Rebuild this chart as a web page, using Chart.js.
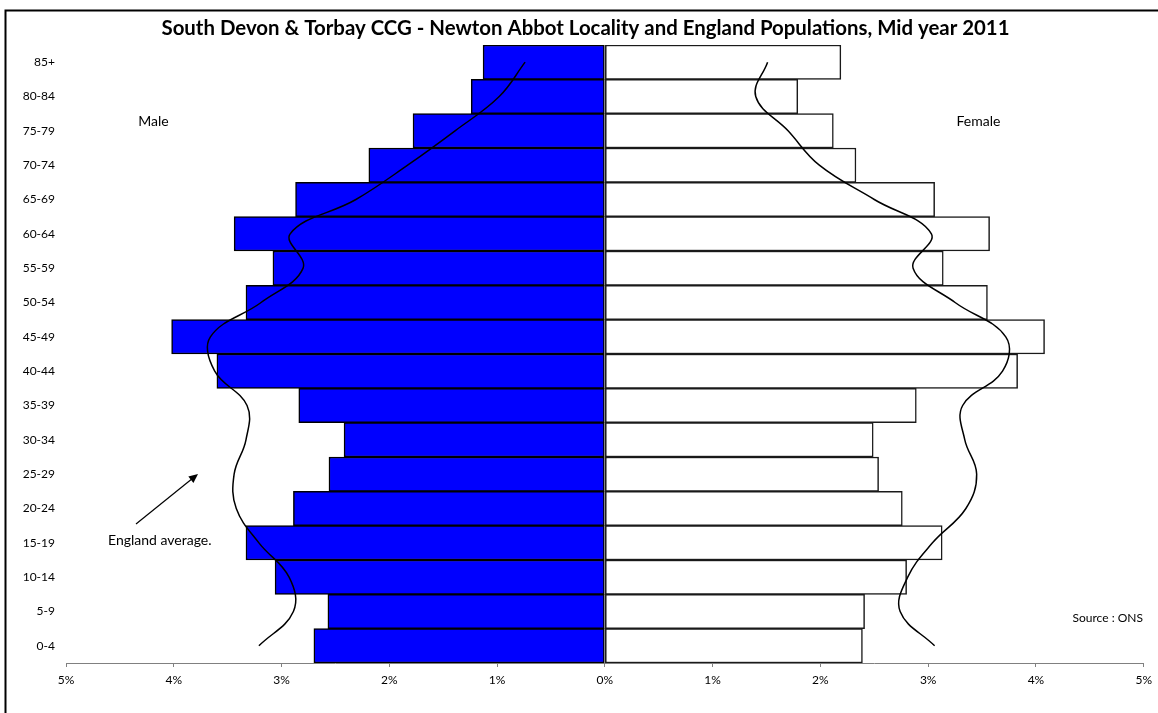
<!DOCTYPE html>
<html>
<head>
<meta charset="utf-8">
<title>Newton Abbot Locality population pyramid</title>
<script src="https://cdn.jsdelivr.net/npm/chart.js@4.4.1/dist/chart.umd.min.js"></script>
<style>
  html, body { margin: 0; padding: 0; background: #ffffff; }
  #wrap { width: 1158px; height: 713px; position: relative; }
  canvas { display: block; }
</style>
</head>
<body>
<div id="wrap"><canvas id="pyramid" width="1158" height="713"></canvas></div>
<script>
// Five-year age bands, youngest first (the y axis is reversed so 85+ sits on top)
const ageBands = ['0-4', '5-9', '10-14', '15-19', '20-24', '25-29', '30-34', '35-39', '40-44',
                  '45-49', '50-54', '55-59', '60-64', '65-69', '70-74', '75-79', '80-84', '85+'];

// Newton Abbot Locality, % of total population
const maleLocality   = [2.70, 2.57, 3.06, 3.33, 2.89, 2.56, 2.42, 2.84, 3.60, 4.02, 3.33, 3.08, 3.44, 2.87, 2.19, 1.78, 1.24, 1.13];
const femaleLocality = [2.39, 2.41, 2.80, 3.13, 2.76, 2.54, 2.49, 2.89, 3.83, 4.08, 3.55, 3.14, 3.57, 3.06, 2.33, 2.12, 1.79, 2.19];

// England average, % of total population
const maleEngland    = [3.21, 2.89, 2.93, 3.21, 3.42, 3.44, 3.33, 3.32, 3.62, 3.66, 3.19, 2.80, 2.92, 2.31, 1.83, 1.39, 0.98, 0.74];
const femaleEngland  = [3.06, 2.74, 2.81, 3.04, 3.35, 3.45, 3.34, 3.32, 3.69, 3.72, 3.25, 2.86, 3.03, 2.50, 1.99, 1.70, 1.40, 1.51];

// Axis ticks (percent either side of zero)
const tickValues = [-5, -4, -3, -2, -1, 0, 1, 2, 3, 4, 5];

const chartTitle = 'South Devon & Torbay CCG - Newton Abbot Locality and England Populations, Mid year 2011';
const FONT = "Lato, 'Open Sans', 'DejaVu Sans', sans-serif";

// Males are plotted to the left of zero
const toLeft = arr => arr.map(v => -v);

// Frame, title and free-standing labels drawn on the canvas
const decorations = {
  id: 'decorations',
  afterDraw(chart) {
    const ctx = chart.ctx;
    ctx.save();

    ctx.strokeStyle = '#000';
    ctx.lineWidth = 2;
    ctx.strokeRect(5.5, 10.5, 1180, 730);

    ctx.fillStyle = '#000';
    ctx.textBaseline = 'middle';
    ctx.textAlign = 'center';
    ctx.font = `bold 20.4px ${FONT}`;
    ctx.fillText(chartTitle, 585.5, 28);

    ctx.font = `14px ${FONT}`;
    ctx.fillText('Male', 153.5, 121);
    ctx.fillText('Female', 978.5, 121);

    ctx.textAlign = 'left';
    ctx.fillText('England average.', 108, 540);

    ctx.font = `12px ${FONT}`;
    ctx.textAlign = 'right';
    ctx.fillText('Source : ONS', 1143, 618);

    // arrow pointing at the England curve
    const x0 = 136, y0 = 524, x1 = 198, y1 = 474;
    const ang = Math.atan2(y1 - y0, x1 - x0);
    const head = 10, spread = 0.42;
    ctx.lineWidth = 1.2;
    ctx.beginPath();
    ctx.moveTo(x0, y0);
    ctx.lineTo(x1 - Math.cos(ang) * head * 0.8, y1 - Math.sin(ang) * head * 0.8);
    ctx.stroke();
    ctx.beginPath();
    ctx.moveTo(x1, y1);
    ctx.lineTo(x1 - head * Math.cos(ang - spread), y1 - head * Math.sin(ang - spread));
    ctx.lineTo(x1 - head * Math.cos(ang + spread), y1 - head * Math.sin(ang + spread));
    ctx.closePath();
    ctx.fill();

    ctx.restore();
  }
};

const whiteBackground = {
  id: 'whiteBackground',
  beforeDraw(chart) {
    const ctx = chart.ctx;
    ctx.save();
    ctx.fillStyle = '#ffffff';
    ctx.fillRect(0, 0, chart.width, chart.height);
    ctx.restore();
  }
};

new Chart(document.getElementById('pyramid'), {
  type: 'bar',
  data: {
    labels: ageBands,
    datasets: [
      {
        type: 'line',
        label: 'England male',
        data: toLeft(maleEngland),
        indexAxis: 'y',
        borderColor: '#000',
        borderWidth: 1.5,
        pointRadius: 0,
        tension: 0.4,
        fill: false,
        order: 0
      },
      {
        type: 'line',
        label: 'England female',
        data: femaleEngland,
        indexAxis: 'y',
        borderColor: '#000',
        borderWidth: 1.5,
        pointRadius: 0,
        tension: 0.4,
        fill: false,
        order: 0
      },
      {
        label: 'Male',
        data: toLeft(maleLocality),
        backgroundColor: '#0000ff',
        borderColor: '#000',
        borderWidth: 1.5,
        borderSkipped: false,
        grouped: false,
        barPercentage: 1,
        categoryPercentage: 1,
        order: 1
      },
      {
        label: 'Female',
        data: femaleLocality,
        backgroundColor: '#ffffff',
        borderColor: '#1a1a1a',
        borderWidth: 1.5,
        borderSkipped: false,
        grouped: false,
        barPercentage: 1,
        categoryPercentage: 1,
        order: 1
      }
    ]
  },
  options: {
    indexAxis: 'y',
    responsive: false,
    animation: false,
    devicePixelRatio: 1,
    layout: { padding: { top: 45, right: 12, left: 0, bottom: 0 } },
    plugins: {
      legend: { display: false },
      title: { display: false },
      tooltip: { enabled: false }
    },
    scales: {
      x: {
        type: 'linear',
        min: -5,
        max: 5,
        afterBuildTicks(scale) { scale.ticks = tickValues.map(v => ({ value: v })); },
        afterFit(scale) { scale.height = 50; },
        grid: { drawOnChartArea: false, drawTicks: true, tickLength: 4, color: '#808080' },
        border: { display: true, color: '#808080', width: 1 },
        ticks: {
          padding: 6,
          color: '#000',
          font: { family: FONT, size: 12 },
          callback: v => Math.abs(v) + '%'
        }
      },
      y: {
        type: 'category',
        reverse: true,
        afterFit(scale) { scale.width = 66; },
        grid: { display: false, drawTicks: false },
        border: { display: false },
        ticks: {
          padding: 11,
          color: '#000',
          font: { family: FONT, size: 12 }
        }
      }
    }
  },
  plugins: [whiteBackground, decorations]
});
</script>
</body>
</html>
